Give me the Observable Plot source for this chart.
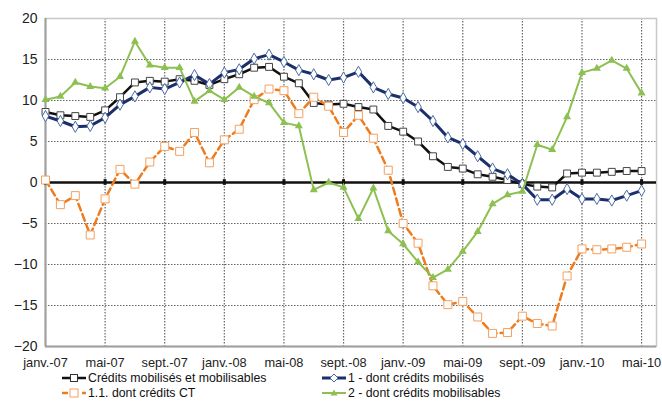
<!DOCTYPE html>
<html>
<head>
<meta charset="utf-8">
<script src="https://cdn.jsdelivr.net/npm/d3@7"></script>
<script src="https://cdn.jsdelivr.net/npm/@observablehq/plot@0.6"></script>
<style>
  html, body { margin: 0; padding: 0; background: #fff; }
  #wrap { position: relative; width: 662px; height: 417px; font-family: "Liberation Sans", Arial, sans-serif; }
  .leg { position: absolute; display: flex; align-items: center; font-size: 12.3px; color: #111; white-space: nowrap; }
  .leg svg { margin-right: 2px; }
</style>
</head>
<body>
<div id="wrap">
  <div id="chart"></div>
  <div class="leg" style="left:62px; top:371px;"><svg width="24" height="10"><line x1="0" y1="5" x2="24" y2="5" stroke="#111" stroke-width="2.5"/><rect x="8.5" y="1.5" width="7" height="7" fill="#fff" stroke="#333" stroke-width="1"/></svg>Crédits mobilisés et mobilisables</div>
  <div class="leg" style="left:322px; top:371px;"><svg width="24" height="10"><line x1="0" y1="5" x2="24" y2="5" stroke="#1b2f6b" stroke-width="3"/><path d="M12,1 L16,5 L12,9 L8,5 Z" fill="#fff" stroke="#4a6aa5" stroke-width="1"/></svg>1 - dont crédits mobilisés</div>
  <div class="leg" style="left:62px; top:386px;"><svg width="24" height="10"><line x1="0" y1="5" x2="24" y2="5" stroke="#ef7b1f" stroke-width="2.5" stroke-dasharray="6,4"/><rect x="8" y="1" width="8" height="8" fill="#fff" stroke="#f4a060" stroke-width="1"/></svg>1.1. dont crédits CT</div>
  <div class="leg" style="left:322px; top:386px;"><svg width="24" height="10"><line x1="0" y1="5" x2="24" y2="5" stroke="#8dc051" stroke-width="2"/><path d="M12,1.5 L15.5,7.5 L8.5,7.5 Z" fill="#8dc051"/></svg>2 - dont crédits mobilisables</div>
</div>
<script>
const tickLabels = ["janv.-07","mai-07","sept.-07","janv.-08","mai-08","sept.-08","janv.-09","mai-09","sept.-09","janv.-10","mai-10"];
const tickMonths = [0,4,8,12,16,20,24,28,32,36,40];
const yTicks = [-20,-15,-10,-5,0,5,10,15,20];

const creditsTotal = [8.6,8.2,8.1,8.0,8.8,10.4,12.2,12.4,12.3,12.6,12.4,11.9,12.6,13.2,14.0,14.1,12.9,12.1,9.7,9.5,9.6,9.2,8.9,6.9,6.2,5.0,3.2,1.9,1.7,1.0,0.7,0.3,-0.2,-0.5,-0.6,1.1,1.2,1.2,1.3,1.4,1.4];
const creditsMobilises = [8.1,7.5,6.8,6.9,7.9,9.5,10.5,11.6,11.4,12.2,13.1,12.0,13.4,13.8,15.1,15.6,14.7,13.7,13.2,12.5,12.8,13.5,11.6,10.8,10.3,9.2,7.5,5.5,4.7,3.2,1.7,1.0,-0.2,-2.1,-2.1,-0.8,-2.0,-2.0,-2.2,-1.6,-1.0];
const creditsCT = [0.3,-2.7,-1.6,-6.4,-2.0,1.6,-0.2,2.5,4.4,3.8,6.1,2.4,5.2,6.5,10.1,11.4,11.2,8.4,10.4,9.3,6.1,8.2,5.4,1.5,-5.0,-7.4,-12.6,-14.9,-14.5,-16.4,-18.4,-18.3,-16.3,-17.2,-17.5,-11.4,-8.1,-8.2,-8.1,-7.9,-7.5];
const creditsMobilisables = [10.1,10.5,12.2,11.7,11.5,12.9,17.2,14.3,14.0,14.0,9.9,11.2,10.1,11.6,10.5,9.7,7.3,6.9,-0.9,0.0,-0.6,-4.4,-0.7,-5.9,-7.5,-9.7,-11.6,-10.6,-8.4,-6.0,-2.6,-1.5,-1.1,4.6,4.0,8.0,13.4,13.9,14.9,13.9,10.9];

const toRows = arr => arr.map((v, i) => ({i, v}));
const dTotal = toRows(creditsTotal);
const dMob = toRows(creditsMobilises);
const dCT = toRows(creditsCT);
const dMbl = toRows(creditsMobilisables);

const chart = Plot.plot({
  width: 662,
  height: 370,
  marginTop: 18,
  marginLeft: 45,
  marginRight: 6,
  marginBottom: 24,
  style: {fontFamily: "'Liberation Sans', Arial, sans-serif", color: "#222", background: "#fff", overflow: "visible"},
  x: {domain: [0, 41], axis: null},
  y: {domain: [-20, 20], axis: null},
  marks: [
    Plot.gridY(yTicks, {stroke: "#666", strokeOpacity: 1, strokeWidth: 1.2, strokeDasharray: "1.5,1.5"}),
    Plot.gridX(tickMonths, {stroke: "#666", strokeOpacity: 1, strokeWidth: 1.2, strokeDasharray: "1.5,1.5"}),
    Plot.frame({stroke: "#c8c8c8", strokeWidth: 1.5}),
    Plot.ruleX([0], {stroke: "#a0a0a0", strokeWidth: 2}),
    Plot.ruleY([-20], {stroke: "#a0a0a0", strokeWidth: 2}),
    Plot.ruleY([0], {stroke: "#111", strokeWidth: 2.5}),
    Plot.ruleX(tickMonths, {y1: -0.35, y2: 0.35, stroke: "#111", strokeWidth: 3}),
    Plot.axisY(yTicks, {tickSize: 0, tickPadding: 8, fontSize: 14, label: null}),
    Plot.axisX(tickMonths, {tickSize: 0, tickPadding: 11, fontSize: 12.8, label: null, tickFormat: (d) => tickLabels[tickMonths.indexOf(d)]}),
    Plot.line(dTotal, {x: "i", y: "v", stroke: "#111", strokeWidth: 2.5}),
    Plot.dot(dTotal, {x: "i", y: "v", symbol: "square", r: 3.9, fill: "#fff", stroke: "#444", strokeWidth: 1}),
    Plot.line(dMob, {x: "i", y: "v", stroke: "#1b2f6b", strokeWidth: 3}),
    Plot.dot(dMob, {x: "i", y: "v", symbol: "diamond", r: 3.4, fill: "#fff", stroke: "#4a6aa5", strokeWidth: 1}),
    Plot.line(dCT, {x: "i", y: "v", stroke: "#ef7b1f", strokeWidth: 2.5, strokeDasharray: "7,4"}),
    Plot.dot(dCT, {x: "i", y: "v", symbol: "square", r: 4.5, fill: "#fff", stroke: "#f4a060", strokeWidth: 1}),
    Plot.line(dMbl, {x: "i", y: "v", stroke: "#8dc051", strokeWidth: 2}),
    Plot.dot(dMbl, {x: "i", y: "v", symbol: "triangle", r: 3, fill: "#8dc051"})
  ]
});
document.getElementById("chart").appendChild(chart);
</script>
</body>
</html>
